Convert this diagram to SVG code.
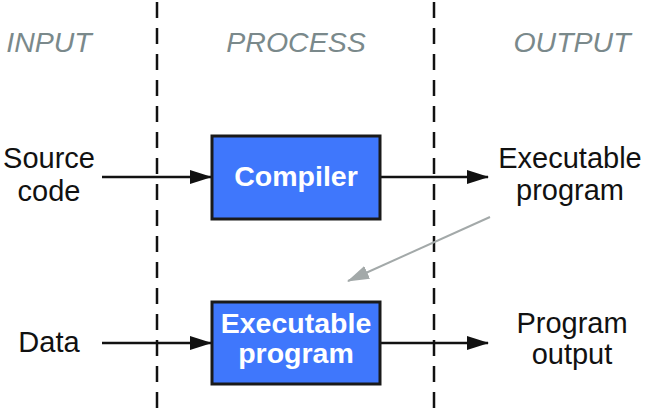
<svg xmlns="http://www.w3.org/2000/svg" width="646" height="413" viewBox="0 0 646 413">
<style>
.hdr{font-family:"Liberation Sans",Arial,sans-serif;font-style:italic;font-size:28.5px;fill:#7a898b;text-anchor:middle}
.lbl{font-family:"Liberation Sans",Arial,sans-serif;font-size:29px;fill:#111;text-anchor:middle}
.box{fill:#3f77fc;stroke:#1a1a1a;stroke-width:3}
.btxt{font-family:"Liberation Sans",Arial,sans-serif;font-weight:bold;font-size:28.5px;fill:#fff;text-anchor:middle}
.div{stroke:#111;stroke-width:2.5;stroke-dasharray:16 10;fill:none}
.con{stroke:#111;stroke-width:2.5;fill:none}
.gray{stroke:#a3a9a9;stroke-width:2;fill:none}
</style>
<defs>
<marker id="ah" markerWidth="22" markerHeight="14" refX="21" refY="7" orient="auto" markerUnits="userSpaceOnUse">
<path d="M0,0 L22,7 L0,14 z" fill="#111"/>
</marker>
<marker id="ahg" markerWidth="22" markerHeight="14" refX="21" refY="7" orient="auto" markerUnits="userSpaceOnUse">
<path d="M0,0 L22,7 L0,14 z" fill="#a3a9a9"/>
</marker>
</defs>
<g id="dividers">
<line class="div" x1="157" y1="2" x2="157" y2="413"/>
<line class="div" x1="434" y1="2" x2="434" y2="413"/>
</g>
<g id="headers">
<text class="hdr" x="49" y="52">INPUT</text>
<text class="hdr" x="296" y="52">PROCESS</text>
<text class="hdr" x="572" y="52">OUTPUT</text>
</g>
<g id="connectors">
<line class="con" x1="102" y1="177" x2="211" y2="177" marker-end="url(#ah)"/>
<line class="con" x1="380" y1="177" x2="488" y2="177" marker-end="url(#ah)"/>
<line class="con" x1="102" y1="343" x2="211" y2="343" marker-end="url(#ah)"/>
<line class="con" x1="380" y1="343" x2="488" y2="343" marker-end="url(#ah)"/>
<line class="gray" x1="490" y1="217" x2="348" y2="281" marker-end="url(#ahg)"/>
</g>
<g id="source-code">
<text class="lbl" x="49" y="168">Source</text>
<text class="lbl" x="49" y="201">code</text>
</g>
<g id="compiler">
<rect class="box" x="212" y="136" width="168" height="83"/>
<text class="btxt" x="296" y="186">Compiler</text>
</g>
<g id="executable-program-out">
<text class="lbl" x="570" y="168">Executable</text>
<text class="lbl" x="570" y="200">program</text>
</g>
<g id="data">
<text class="lbl" x="49" y="352">Data</text>
</g>
<g id="executable-program">
<rect class="box" x="212" y="302" width="168" height="82"/>
<text class="btxt" x="296" y="333">Executable</text>
<text class="btxt" x="296" y="363">program</text>
</g>
<g id="program-output">
<text class="lbl" x="572" y="333">Program</text>
<text class="lbl" x="572" y="364">output</text>
</g>
</svg>
